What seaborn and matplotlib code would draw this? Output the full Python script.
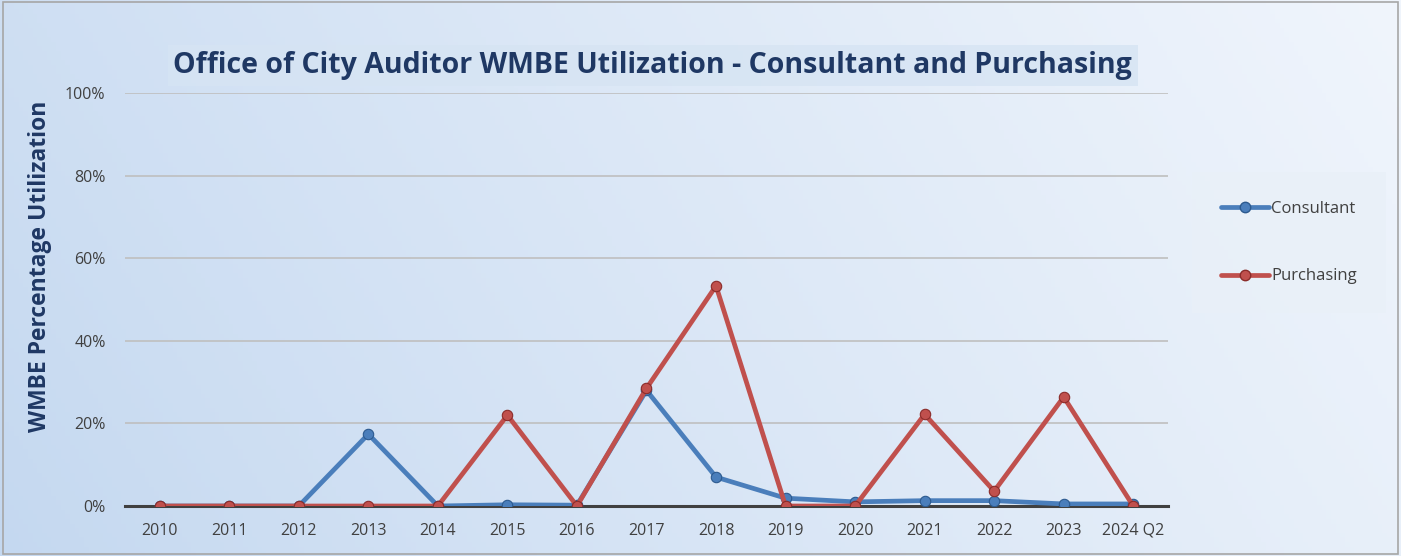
import numpy as np
import pandas as pd
import seaborn as sns
import matplotlib.pyplot as plt
from matplotlib.patches import Rectangle
from matplotlib.ticker import PercentFormatter

# data
years = ['2010', '2011', '2012', '2013', '2014', '2015', '2016', '2017',
         '2018', '2019', '2020', '2021', '2022', '2023', '2024 Q2']
consultant = [0.0, 0.0, 0.0, 17.4, 0.0, 0.3, 0.2, 28.0, 7.0, 1.9, 1.0, 1.3, 1.3, 0.5, 0.5]
purchasing = [0.0, 0.0, 0.0, 0.0, 0.0, 22.0, 0.0, 28.5, 53.3, 0.0, 0.0, 22.2, 3.6, 26.4, 0.0]

df = pd.DataFrame({'year': years * 2,
                   'value': consultant + purchasing,
                   'series': ['Consultant'] * len(years) + ['Purchasing'] * len(years)})

sns.set_style('white')
plt.rcParams['font.family'] = ['Open Sans', 'DejaVu Sans']

fig = plt.figure(figsize=(14.01, 5.56), dpi=100)

# background gradient (blue on the left, lighter towards the right)
bg = fig.add_axes([0, 0, 1, 1], zorder=-10)
gx = np.linspace(0, 1, 300)
gy = np.linspace(0, 1, 120)
X, Y = np.meshgrid(gx, gy)
t = np.clip(0.8 * X + 0.2 * Y, 0, 1) ** 0.9
c0 = np.array([196, 216, 240]) / 255
c1 = np.array([240, 245, 252]) / 255
img = c0[None, None, :] * (1 - t[..., None]) + c1[None, None, :] * t[..., None]
bg.imshow(img, aspect='auto', extent=[0, 1, 0, 1], origin='lower')
bg.set_axis_off()
bg.add_patch(Rectangle((0.002, 0.004), 0.996, 0.992, fill=False, edgecolor='#a6a6a6',
                       linewidth=1.2, transform=bg.transAxes))

ax = fig.add_axes([0.0892, 0.0899, 0.7445, 0.7428])
ax.patch.set_alpha(0)

palette = {'Consultant': '#4a7ebb', 'Purchasing': '#c0504d'}
edges = ['#2c5a8f', '#8b2c2a']
sns.lineplot(data=df, x='year', y='value', hue='series', palette=palette, sort=False,
             marker='o', markersize=7.5, linewidth=3.4, markeredgewidth=0.8,
             ax=ax, legend=False)
for line, ec in zip(ax.lines, edges):
    line.set_markeredgecolor(ec)

ax.set_xlim(-0.5, len(years) - 0.5)
ax.set_ylim(0, 100)
ax.set_yticks([0, 20, 40, 60, 80, 100])
ax.yaxis.set_major_formatter(PercentFormatter(decimals=0))
ax.grid(axis='y', color='#bfbfbf', linewidth=1.2)
ax.set_axisbelow(True)
for s in ['top', 'right', 'left']:
    ax.spines[s].set_visible(False)
ax.spines['bottom'].set_color('#404040')
ax.spines['bottom'].set_linewidth(2.2)
ax.spines['bottom'].set_zorder(1)
ax.tick_params(axis='both', length=0, labelsize=11.5, colors='#404040', pad=12)
ax.tick_params(axis='y', pad=14)
ax.set_xlabel('')
ax.set_ylabel('WMBE Percentage Utilization', fontsize=16.5, fontweight='bold',
              color='#1f3864')
ax.yaxis.set_label_coords(-0.07, 0.58)

# title with its own lighter box
fig.text(0.466, 0.882, 'Office of City Auditor WMBE Utilization - Consultant and Purchasing',
         ha='center', va='center', fontsize=20.5, fontweight='bold', color='#1f3864',
         bbox=dict(boxstyle='square,pad=0.2', facecolor='#d6e4f3', edgecolor='none', alpha=0.8))

# legend
handles = [plt.Line2D([], [], color=palette[k], marker='o', markersize=7.5, linewidth=3.4,
                      markeredgecolor=ec)
           for k, ec in zip(['Consultant', 'Purchasing'], edges)]
leg = fig.legend(handles, ['Consultant', 'Purchasing'], loc='upper left',
                 bbox_to_anchor=(0.851, 0.69), frameon=True, fontsize=12,
                 labelspacing=3.1, handlelength=2.9, handletextpad=0.15,
                 borderpad=1.7, borderaxespad=0)
leg.get_frame().set_facecolor('#e9f0f8')
leg.get_frame().set_edgecolor('none')
leg.get_frame().set_boxstyle('square', pad=0)
for txt in leg.get_texts():
    txt.set_color('#404040')

fig.savefig('out.png', dpi=100)
